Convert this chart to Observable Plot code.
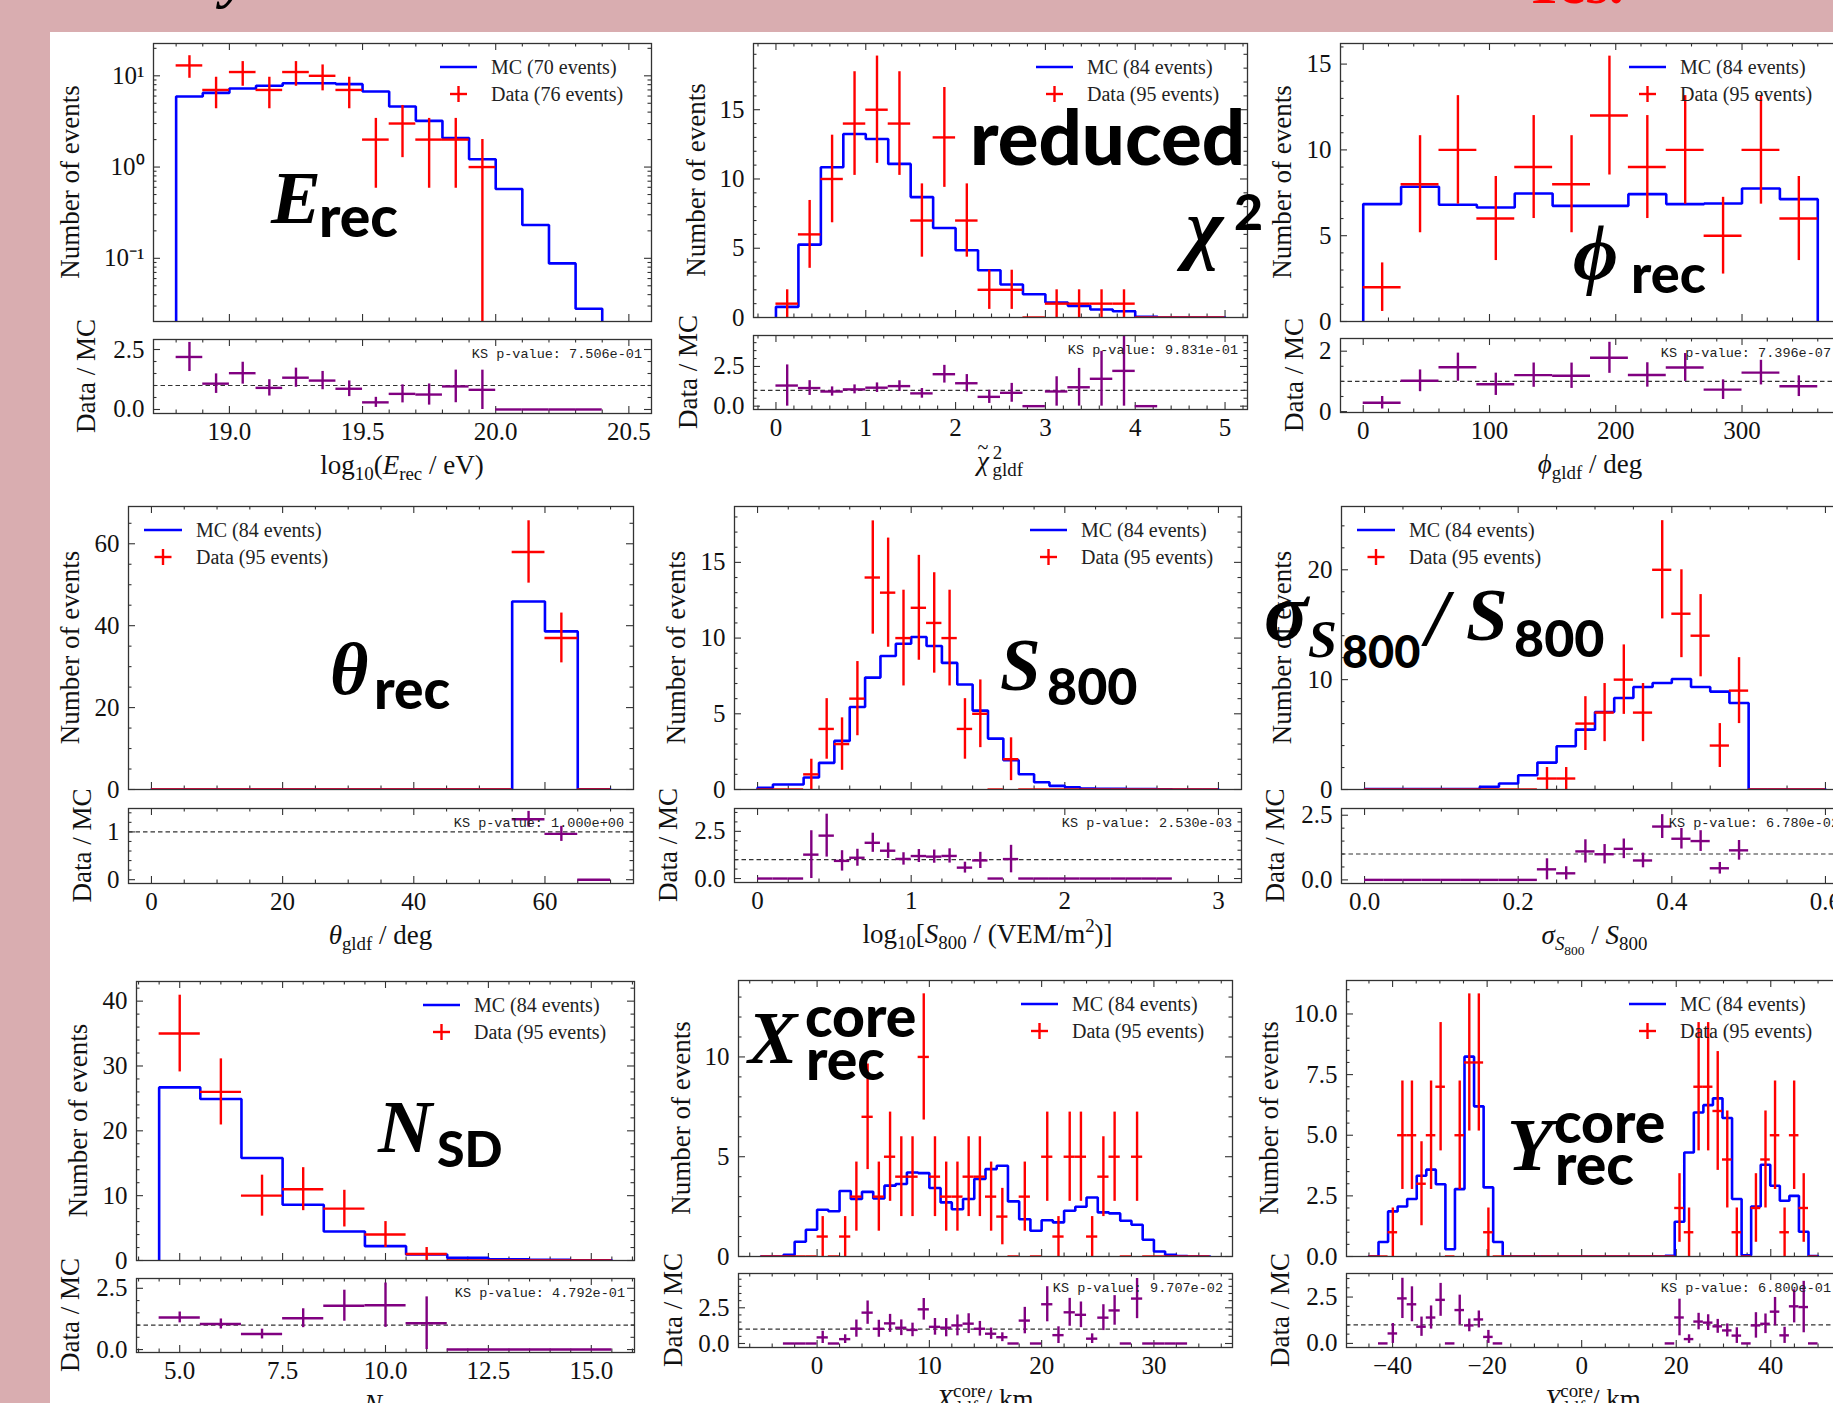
<!DOCTYPE html>
<html><head><meta charset="utf-8">
<script src="https://cdn.jsdelivr.net/npm/d3@7"></script>
<script src="https://cdn.jsdelivr.net/npm/@observablehq/plot@0.6"></script>
<style>
body{margin:0;background:#d9adb0;}
#root{position:relative;width:1833px;height:1403px;overflow:hidden;background:#d9adb0;}
#sheet{position:absolute;left:50px;top:32px;width:1783px;height:1371px;background:#fff;}
</style></head><body><div id="root"><div id="sheet"></div></div>
<script>
// ================= DATA =================
// E_rec : log10(E/eV), bins of 0.1 from 18.8
const erecLo = 18.8, erecW = 0.1;
const erecMC   = [5.94,6.5,7.27,7.77,8.3,8.3,8.1,6.73,4.61,3.21,2.08,1.22,0.574,0.232,0.088,0.028,0];
const erecData = [13,7,11,7,11,10,7,2,3,2,2,1,0,0,0,0,0];
const erecXTicks = [19.0,19.5,20.0,20.5];
const erecYTicks = [0.1,1,10];

// reduced chi2, bins of 0.25 from 0
const chiLo = 0, chiW = 0.25;
const chiMC   = [0.77,5.26,10.85,13.25,12.89,11.09,8.69,6.46,4.85,3.41,2.38,1.68,1.08,0.84,0.58,0.45,0.05,0,0,0];
const chiData = [1,6,10,14,15,14,7,13,7,2,2,0,1,1,1,1,0,0,0,0];
const chiXTicks = [0,1,2,3,4,5];
const chiYTicks = [0,5,10,15];

// phi, bins of 30 deg
const phiLo = 0, phiW = 30;
const phiMC   = [6.84,7.85,6.8,6.64,7.46,6.74,6.74,7.42,6.84,6.88,7.75,7.13];
const phiData = [2,8,10,6,9,8,12,9,10,5,10,6];
const phiXTicks = [0,100,200,300];
const phiYTicks = [0,5,10,15];

// theta, bins of 5 deg
const thLo = 0, thW = 5;
const thMC   = [0,0,0,0,0,0,0,0,0,0,0,45.9,38.6,0.03];
const thData = [0,0,0,0,0,0,0,0,0,0,0,58,37,0];
const thXTicks = [0,20,40,60];
const thYTicks = [0,20,40,60];

// log10 S800, bins of 0.1
const s8Lo = 0, s8W = 0.1;
const s8MC   = [0.11,0.33,0.33,0.79,1.76,3.21,5.45,7.39,8.82,9.63,10.07,9.48,8.36,6.93,5.21,3.36,1.94,1.01,0.48,0.24,0.15,0.06,0.05,0.04,0.03,0.03,0.02,0,0,0];
const s8Data = [0,0,0,1,4,3,6,14,13,10,12,11,10,4,5,0,2,0,0,0,0,0,0,0,0,0,0,0,0,0];
const s8XTicks = [0,1,2,3];
const s8YTicks = [0,5,10,15];

// sigma S800 / S800, bins of 0.025
const sgLo = 0, sgW = 0.025;
const sgMC   = [0.03,0.03,0.03,0.03,0.03,0.03,0.24,0.55,1.3,2.45,3.94,5.45,7.06,8.33,9.33,9.7,10.06,9.33,8.91,7.88,0,0,0,0];
const sgData = [0,0,0,0,0,0,0,0,0,1,1,6,7,10,7,20,16,14,4,9,0,0,0,0];
const sgXTicks = [0,0.2,0.4,0.6];
const sgYTicks = [0,10,20];

// N_SD, unit bins centred on integers
const nsLo = 4.5, nsW = 1;
const nsMC   = [26.7,24.9,15.8,8.6,4.47,2.21,0.93,0.41,0.2,0.1,0.05];
const nsData = [35,26,10,11,8,4,1,0,0,0,0];
const nsXTicks = [5,7.5,10,12.5,15];
const nsYTicks = [0,10,20,30,40];

// X core, bins of 1 km from -5
const xcLo = -5, xcW = 1;
const xcMC   = [0,0,0.08,0.74,1.34,2.34,2.27,3.28,2.88,3.24,2.91,3.55,3.63,4.21,4.18,3.43,2.71,2.37,2.88,3.88,4.38,4.55,2.76,1.87,1.29,1.82,1.71,2.29,2.49,2.96,2.21,2.16,1.79,1.59,0.84,0.25,0.08,0.02,0,0];
const xcData = [0,0,0,0,0,1,0,1,3,7,3,5,4,4,10,4,3,3,4,4,3,2,0,3,0,5,1,5,5,1,4,5,0,5,0,0,0,0,0,0];
const xcXTicks = [0,10,20,30];
const xcYTicks = [0,5,10];

// Y core, 47 bins from -45 to 50 km
const ycLo = -45, ycW = 95/47;
const ycMC   = [0,0.6,1.86,2.06,2.37,3.33,3.58,2.98,0.3,2.78,8.24,6.19,2.85,0.6,0,0,0,0,0,0,0,0,0,0,0,0,0,0,0,0,0,0.03,1.43,4.29,5.94,6.24,6.52,5.71,2.37,0.05,2.06,3.78,2.92,2.3,2.5,1.02,0.02];
const ycData = [0,0,1,5,5,3,5,7,0,5,8,8,1,0,0,0,0,0,0,0,0,0,0,0,0,0,0,0,0,0,0,0,2,1,7,7,6,4,1,0,2,4,5,1,5,2,0];
const ycXTicks = [-40,-20,0,20,40];
const ycYTicks = [0,2.5,5,7.5,10];

const ksValues  = ["7.506e-01","9.831e-01","7.396e-07","1.000e+00","2.530e-03","6.780e-02","4.792e-01","9.707e-02","6.800e-01"];
const mcCounts  = [70,84,84,84,84,84,84,84,84];
const dataCounts= [76,95,95,95,95,95,95,95,95];

// ================= LAYOUT / DRAWING =================
const SERIF = "'Liberation Serif','Times New Roman',serif";
const FS = 25;
const f0 = d3.format("d"), f1 = d3.format(".1f");
const logFmt = d => d === 0.1 ? "10\u207B\u00B9" : d === 1 ? "10\u2070" : "10\u00B9";

const panels = [
 {L:153,R:651,T:43,B:321,rT:339,rB:413, lo:erecLo,w:erecW,mc:erecMC,data:erecData, xDom:[18.715,20.585], yDom:[0.0203,22.6], yLog:true, rDom:[-0.167,2.917],
  xTicks:erecXTicks,xMinor:0.1,yTicks:erecYTicks,yMinor:"log",rTicks:[0,2.5],rMinor:0.5,xFmt:f1,yFmt:logFmt,rFmt:f1,yOff:83,rOff:67,leg:"ur"},
 {L:753,R:1247,T:43,B:317,rT:335,rB:409, lo:chiLo,w:chiW,mc:chiMC,data:chiData, xDom:[-0.25,5.25], yDom:[0,19.78], rDom:[-0.21,4.45],
  xTicks:chiXTicks,xMinor:0.2,yTicks:chiYTicks,yMinor:1,rTicks:[0,2.5],rMinor:0.5,xFmt:f0,yFmt:f0,rFmt:f1,yOff:57,rOff:65,leg:"ur"},
 {L:1340,R:1840,T:43,B:321,rT:338,rB:412, lo:phiLo,w:phiW,mc:phiMC,data:phiData, xDom:[-18,378], yDom:[0,16.2], rDom:[-0.03,2.42],
  xTicks:phiXTicks,xMinor:20,yTicks:phiYTicks,yMinor:1,rTicks:[0,2],rMinor:0.5,xFmt:f0,yFmt:f0,rFmt:f0,yOff:58,rOff:46,leg:"ur"},
 {L:128,R:633,T:506,B:789,rT:808,rB:883, lo:thLo,w:thW,mc:thMC,data:thData, xDom:[-3.5,73.5], yDom:[0,69.1], rDom:[-0.08,1.49],
  xTicks:thXTicks,xMinor:5,yTicks:thYTicks,yMinor:5,rTicks:[0,1],rMinor:0.2,xFmt:f0,yFmt:f0,rFmt:f0,yOff:58,rOff:46,leg:"ul"},
 {L:734,R:1241,T:506,B:789,rT:808,rB:882, lo:s8Lo,w:s8W,mc:s8MC,data:s8Data, xDom:[-0.15,3.15], yDom:[0,18.69], rDom:[-0.21,3.71],
  xTicks:s8XTicks,xMinor:0.2,yTicks:s8YTicks,yMinor:1,rTicks:[0,2.5],rMinor:0.5,xFmt:f0,yFmt:f0,rFmt:f1,yOff:58,rOff:66,leg:"ur"},
 {L:1341,R:1848,T:506,B:789,rT:808,rB:883, lo:sgLo,w:sgW,mc:sgMC,data:sgData, xDom:[-0.03,0.63], yDom:[0,25.76], rDom:[-0.14,2.76],
  xTicks:sgXTicks,xMinor:0.05,yTicks:sgYTicks,yMinor:2,rTicks:[0,2.5],rMinor:0.5,xFmt:f1,yFmt:f0,rFmt:f1,yOff:59,rOff:66,leg:"ul"},
 {L:136,R:634,T:981,B:1260,rT:1278,rB:1352, lo:nsLo,w:nsW,mc:nsMC,data:nsData, xDom:[3.95,16.05], yDom:[0,43.03], rDom:[-0.12,2.9],
  xTicks:nsXTicks,xMinor:0.5,yTicks:nsYTicks,yMinor:2,rTicks:[0,2.5],rMinor:0.5,xFmt:f1,yFmt:f0,rFmt:f1,yOff:58,rOff:66,leg:"ur"},
 {L:738,R:1232,T:980,B:1256,rT:1273,rB:1347, lo:xcLo,w:xcW,mc:xcMC,data:xcData, xDom:[-7,37], yDom:[0,13.83], rDom:[-0.28,4.9],
  xTicks:xcXTicks,xMinor:2,yTicks:xcYTicks,yMinor:1,rTicks:[0,2.5],rMinor:0.5,xFmt:f0,yFmt:f0,rFmt:f1,yOff:57,rOff:65,leg:"ur"},
 {L:1346,R:1840,T:980,B:1256,rT:1273,rB:1347, lo:ycLo,w:ycW,mc:ycMC,data:ycData, xDom:[-49.75,54.75], yDom:[0,11.38], rDom:[-0.22,3.77],
  xTicks:ycXTicks,xMinor:5,yTicks:ycYTicks,yMinor:0.5,rTicks:[0,2.5],rMinor:0.5,xFmt:f0,yFmt:f1,rFmt:f1,yOff:77,rOff:66,leg:"ur"}
];

const TICK = {stroke:"#333", strokeWidth:1.1};
function stepTicks(dom, step) {
  const a = Math.ceil(dom[0]/step - 1e-9), b = Math.floor(dom[1]/step + 1e-9);
  return d3.range(a, b+1).map(k => +(k*step).toFixed(6));
}
function logMinor(dom) {
  return [0.01,0.1,1,10].flatMap(p => [2,3,4,5,6,7,8,9].map(m => +(m*p).toPrecision(3))).filter(v => v >= dom[0] && v <= dom[1]);
}
function tickRules(xMaj, xMin, yMaj, yMin, fw, fh) {
  const out = [];
  for (const [vals, len] of [[xMaj, 7], [xMin, 3.5]]) {
    out.push(Plot.ruleX(vals, {x: d => d, insetTop: fh - len, ...TICK}));
    out.push(Plot.ruleX(vals, {x: d => d, insetBottom: fh - len, ...TICK}));
  }
  for (const [vals, len] of [[yMaj, 7], [yMin, 3.5]]) {
    out.push(Plot.ruleY(vals, {y: d => d, insetRight: fw - len, ...TICK}));
    out.push(Plot.ruleY(vals, {y: d => d, insetLeft: fw - len, ...TICK}));
  }
  return out;
}
const inDom = (vals, dom) => vals.filter(v => v >= dom[0] - 1e-9 && v <= dom[1] + 1e-9);

const root = document.getElementById("root");
const ML = 120, MR = 14, MT = 14, MB = 14, RMB = 60;

panels.forEach((P) => {
  const n = P.mc.length;
  const edges = d3.range(n + 1).map(i => +(P.lo + i * P.w).toFixed(6));
  const rows = P.data.map((d, i) => ({x0: edges[i], x1: edges[i+1], c: (edges[i] + edges[i+1]) / 2, n: d, lo: d - Math.sqrt(d), hi: d + Math.sqrt(d), m: P.mc[i]}));
  const floor = P.yLog ? 1e-6 : 0;
  const fy = v => P.yLog ? Math.max(v, floor) : v;
  const step = [{x: edges[0], y: floor}];
  P.mc.forEach((v, i) => step.push({x: edges[i], y: fy(v)}));
  step.push({x: edges[n], y: fy(P.mc[n-1])});
  step.push({x: edges[n], y: floor});
  const dataRows = P.yLog ? rows.filter(r => r.n > 0).map(r => ({...r, lo: Math.max(r.lo, floor)})) : rows;
  const ratioRows = rows.filter(r => r.m > 0).map(r => ({x0: r.x0, x1: r.x1, c: r.c, r: r.n / r.m, lo: r.lo / r.m, hi: r.hi / r.m}));

  const fw = P.R - P.L, fh = P.B - P.T, rfh = P.rB - P.rT;
  const xMaj = inDom(P.xTicks, P.xDom), xMin = stepTicks(P.xDom, P.xMinor).filter(v => !xMaj.some(t => Math.abs(t - v) < 1e-9));
  const yMaj = inDom(P.yTicks, P.yDom);
  const yMin = P.yMinor === "log" ? logMinor(P.yDom) : stepTicks(P.yDom, P.yMinor).filter(v => !yMaj.some(t => Math.abs(t - v) < 1e-9));
  const rMaj = inDom(P.rTicks, P.rDom), rMin = stepTicks(P.rDom, P.rMinor).filter(v => !rMaj.some(t => Math.abs(t - v) < 1e-9));
  const style = {background: "transparent", overflow: "visible", fontFamily: SERIF, fontSize: FS + "px", color: "#111"};

  const main = Plot.plot({
    width: fw + ML + MR, height: fh + MT + MB,
    marginLeft: ML, marginRight: MR, marginTop: MT, marginBottom: MB,
    style,
    x: {domain: P.xDom, axis: null},
    y: {type: P.yLog ? "log" : "linear", domain: P.yDom, axis: null},
    marks: [
      ...tickRules(xMaj, xMin, yMaj, yMin, fw, fh),
      Plot.axisY(yMaj, {anchor: "left", tickSize: 0, tickPadding: 9, tickFormat: P.yFmt, fontSize: FS, label: null}),
      Plot.line(step, {x: "x", y: "y", curve: "step-after", stroke: "#0000ff", strokeWidth: 2.6, strokeLinejoin: "miter", clip: true}),
      Plot.ruleY(dataRows, {y: "n", x1: "x0", x2: "x1", stroke: "#ff0000", strokeWidth: 2.4, clip: true}),
      Plot.ruleX(dataRows, {x: "c", y1: "lo", y2: "hi", stroke: "#ff0000", strokeWidth: 2.4, clip: true}),
      Plot.frame({stroke: "#333", strokeWidth: 1.3})
    ]
  });
  main.style.position = "absolute";
  main.style.left = (P.L - ML) + "px";
  main.style.top = (P.T - MT) + "px";
  main.style.maxWidth = "none";
  root.appendChild(main);

  const ratio = Plot.plot({
    width: fw + ML + MR, height: rfh + MT + RMB,
    marginLeft: ML, marginRight: MR, marginTop: MT, marginBottom: RMB,
    style,
    x: {domain: P.xDom, axis: null},
    y: {domain: P.rDom, axis: null},
    marks: [
      ...tickRules(xMaj, xMin, rMaj, rMin, fw, rfh),
      Plot.axisX(xMaj, {anchor: "bottom", tickSize: 0, tickPadding: 9, tickFormat: P.xFmt, fontSize: FS, label: null}),
      Plot.axisY(rMaj, {anchor: "left", tickSize: 0, tickPadding: 9, tickFormat: P.rFmt, fontSize: FS, label: null}),
      Plot.ruleY([1], {stroke: "#333", strokeWidth: 1.2, strokeDasharray: "4.5,3"}),
      Plot.ruleY(ratioRows, {y: "r", x1: "x0", x2: "x1", stroke: "#800080", strokeWidth: 2.4, clip: true}),
      Plot.ruleX(ratioRows, {x: "c", y1: "lo", y2: "hi", stroke: "#800080", strokeWidth: 2.4, clip: true}),
      Plot.frame({stroke: "#333", strokeWidth: 1.3})
    ]
  });
  ratio.style.position = "absolute";
  ratio.style.left = (P.L - ML) + "px";
  ratio.style.top = (P.rT - MT) + "px";
  ratio.style.maxWidth = "none";
  root.appendChild(ratio);
});

// ================= OVERLAY: labels, legends, annotations =================
function rich(parts, fs) {
  let cur = 0, out = "";
  for (const p of parts) {
    const [t, k = "", dxv = 0] = p;
    let sh = 0, sc = 1;
    if (k.includes("subsub")) { sh = 0.42; sc = 0.5; }
    else if (k.includes("sub")) { sh = 0.22; sc = 0.7; }
    else if (k.includes("sup")) { sh = -0.4; sc = 0.7; }
    const it = k.startsWith("i") ? ' font-style="italic"' : "";
    out += `<tspan dy="${((sh - cur) * fs).toFixed(2)}"${dxv ? ` dx="${dxv.toFixed(1)}"` : ""} font-size="${(fs * sc).toFixed(1)}"${it}>${t}</tspan>`;
    cur = sh;
  }
  return out;
}
const xLabels = [
  [["log"],["10","sub"],["("],["E","i"],["rec","sub"],[" / eV)"]],
  [["\u03C7","i"],["2","sup",4],["gldf","sub",-9.7]],
  [["\u03D5","i"],["gldf","sub"],[" / deg"]],
  [["\u03B8","i"],["gldf","sub"],[" / deg"]],
  [["log"],["10","sub"],["["],["S","i"],["800","sub"],[" / (VEM/m"],["2","sup"],[")]"]],
  [["\u03C3","i"],["S","isub"],["800","subsub"],[" / "],["S","i"],["800","sub"]],
  [["N","i"],["SD","sub"]],
  [["X","i"],["core","sup"],["gldf","sub",-38],[" / km"]],
  [["Y","i"],["core","sup"],["gldf","sub",-38],[" / km"]]
];

let svg = `<svg xmlns="http://www.w3.org/2000/svg" width="1833" height="1403" style="position:absolute;left:0;top:0" font-family="${SERIF}">`;
// cropped title fragments above the sheet
svg += `<text x="222" y="-4" font-size="60" font-weight="bold" font-style="italic" fill="#000">y</text>`;
svg += `<text x="1522" y="3" font-size="60" font-weight="bold" fill="#ff0000">Yes.</text>`;

panels.forEach((P, i) => {
  const LFS = 27;
  const cy = (P.T + P.B) / 2, cx = P.L - P.yOff + 0.35 * LFS;
  svg += `<text transform="translate(${cx},${cy}) rotate(-90)" text-anchor="middle" font-size="${LFS}" fill="#111">Number of events</text>`;
  const rcy = (P.rT + P.rB) / 2, rcx = P.L - P.rOff + 0.33 * LFS;
  svg += `<text transform="translate(${rcx},${rcy}) rotate(-90)" text-anchor="middle" font-size="${LFS}" fill="#111">Data / MC</text>`;
  const xc = (P.L + P.R) / 2, xb = P.rB + 61;
  svg += `<text x="${xc}" y="${xb}" text-anchor="middle" font-size="${LFS}" fill="#111">${rich(xLabels[i], LFS)}</text>`;
  if (i === 1) {
    // tilde accent over chi
    svg += `<text x="${xc - 17}" y="${xb - 16}" text-anchor="middle" font-size="20" fill="#111">~</text>`;
  }
  svg += `<text x="${P.R - 9}" y="${P.rT + 19}" text-anchor="end" font-family="'Liberation Mono','DejaVu Sans Mono',monospace" font-size="13.5" fill="#222">KS p-value: ${ksValues[i]}</text>`;
  const y1 = P.T + 24, y2 = P.T + 51;
  let x0, x1, tx;
  if (P.leg === "ur") { x0 = P.R - 211; x1 = P.R - 174; tx = P.R - 160; }
  else { x0 = P.L + 16; x1 = P.L + 54; tx = P.L + 68; }
  const xm = (x0 + x1) / 2;
  svg += `<line x1="${x0}" x2="${x1}" y1="${y1}" y2="${y1}" stroke="#0000ff" stroke-width="2.7"/>`;
  svg += `<line x1="${xm - 8.5}" x2="${xm + 8.5}" y1="${y2}" y2="${y2}" stroke="#ff0000" stroke-width="2.4"/>`;
  svg += `<line x1="${xm}" x2="${xm}" y1="${y2 - 8}" y2="${y2 + 8}" stroke="#ff0000" stroke-width="2.4"/>`;
  svg += `<text x="${tx}" y="${y1 + 7}" font-size="20" fill="#222">MC (${mcCounts[i]} events)</text>`;
  svg += `<text x="${tx}" y="${y2 + 7}" font-size="20" fill="#222">Data (${dataCounts[i]} events)</text>`;
});

// big annotations
const VAR = `font-family="${SERIF}" font-weight="bold" font-style="italic" fill="#000"`;
const SUB = `font-family="Lato,'Noto Sans',sans-serif" font-weight="900" fill="#000"`;
const ann = [
  `<text x="271" y="223" font-size="75" ${VAR}>E</text>`,
  `<text x="319" y="237" font-size="57" ${SUB}>rec</text>`,
  `<text x="970" y="165" font-size="76" ${SUB}>reduced</text>`,
  `<text x="1186" y="254" font-size="80" ${VAR}>\u03C7</text>`,
  `<text x="1234" y="230" font-size="50" ${SUB}>2</text>`,
  `<text x="1573" y="279" font-size="78" ${VAR}>\u03D5</text>`,
  `<text x="1631" y="293" font-size="54" ${SUB}>rec</text>`,
  `<text x="330" y="694" font-size="74" ${VAR}>\u03B8</text>`,
  `<text x="374" y="709" font-size="55" ${SUB}>rec</text>`,
  `<text x="1000" y="690" font-size="73" ${VAR}>S</text>`,
  `<text x="1047" y="705" font-size="52" ${SUB}>800</text>`,
  `<text x="1264" y="640" font-size="82" ${VAR}>\u03C3</text>`,
  `<text x="1308" y="657" font-size="52" ${VAR}>S</text>`,
  `<text x="1342" y="668" font-size="45" ${SUB}>800</text>`,
  `<text x="1426" y="645" font-size="80" ${VAR}>/</text>`,
  `<text x="1466" y="640" font-size="75" ${VAR}>S</text>`,
  `<text x="1514" y="657" font-size="52" ${SUB}>800</text>`,
  `<text x="378" y="1152" font-size="75" ${VAR}>N</text>`,
  `<text x="437" y="1167" font-size="50" ${SUB}>SD</text>`,
  `<text x="748" y="1063" font-size="74" ${VAR}>X</text>`,
  `<text x="805" y="1037" font-size="57" ${SUB}>core</text>`,
  `<text x="806" y="1080" font-size="57" ${SUB}>rec</text>`,
  `<text x="1507" y="1170" font-size="75" ${VAR}>Y</text>`,
  `<text x="1554" y="1143" font-size="57" ${SUB}>core</text>`,
  `<text x="1555" y="1185" font-size="57" ${SUB}>rec</text>`
];
svg += ann.join("");
svg += `</svg>`;
const holder = document.createElement("div");
holder.innerHTML = svg;
root.appendChild(holder.firstChild);
</script></body></html>
